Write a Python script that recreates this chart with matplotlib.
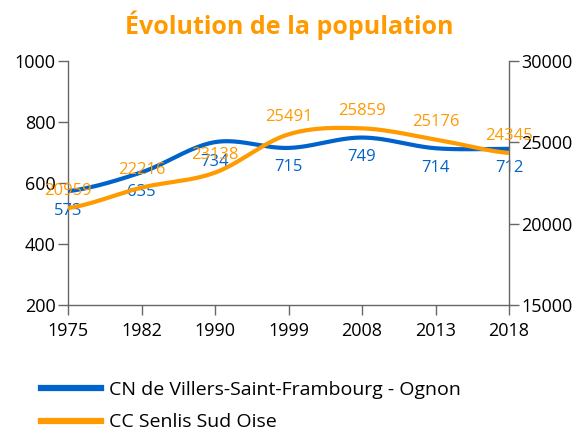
import numpy as np
import matplotlib
matplotlib.use("Agg")
import matplotlib.pyplot as plt
from matplotlib.lines import Line2D

plt.rcParams['font.family'] = ['Open Sans', 'DejaVu Sans']

years = ["1975", "1982", "1990", "1999", "2008", "2013", "2018"]
cn_values = [573, 635, 734, 715, 749, 714, 712]
cc_values = [20959, 22216, 23138, 25491, 25859, 25176, 24345]
cn_name = "CN de Villers-Saint-Frambourg - Ognon"
cc_name = "CC Senlis Sud Oise"
title = "Évolution de la population"

BLUE = "#0063cb"
ORANGE = "#ff9a00"
GRAY = "#666666"


def catmull(y, n=40):
    y = np.asarray(y, dtype=float)
    k = len(y)
    m = np.zeros(k)
    m[1:-1] = (y[2:] - y[:-2]) / 2.0
    m[0] = (y[1] - y[0]) / 2.0
    m[-1] = (y[-1] - y[-2]) / 2.0
    xs, ys = [], []
    t = np.linspace(0, 1, n)
    h00 = 2 * t**3 - 3 * t**2 + 1
    h10 = t**3 - 2 * t**2 + t
    h01 = -2 * t**3 + 3 * t**2
    h11 = t**3 - t**2
    for i in range(k - 1):
        xs.append(i + t)
        ys.append(h00 * y[i] + h10 * m[i] + h01 * y[i + 1] + h11 * m[i + 1])
    return np.concatenate(xs), np.concatenate(ys)


fig = plt.figure(figsize=(5.79, 4.32), dpi=100)
ax = fig.add_axes([68 / 579, 1 - 305 / 432, 441 / 579, 244 / 432])
ax2 = ax.twinx()

x = np.arange(len(years))
bx, by = catmull(cn_values)
ox, oy = catmull(cc_values)
ax.plot(bx, by, color=BLUE, lw=3, solid_capstyle='butt', zorder=3)
ax2.plot(ox, oy, color=ORANGE, lw=3, solid_capstyle='butt', zorder=3)

for xi, v in zip(x, cn_values):
    ax.annotate(str(v), (xi, v), xytext=(0, -14), textcoords='offset points',
                ha='center', va='center', color=BLUE, fontsize=12, zorder=5)
for xi, v in zip(x, cc_values):
    ax2.annotate(str(v), (xi, v), xytext=(0, 12.5), textcoords='offset points',
                 ha='center', va='center', color=ORANGE, fontsize=12, zorder=5)

ax.set_xlim(0, len(years) - 1)
ax.set_ylim(200, 1000)
ax.set_yticks([200, 400, 600, 800, 1000])
ax2.set_ylim(15000, 30000)
ax2.set_yticks([15000, 20000, 25000, 30000])
ax.set_xticks(x)
ax.set_xticklabels(years)

for a in (ax, ax2):
    a.spines['top'].set_visible(False)
    for s in ('left', 'right', 'bottom'):
        a.spines[s].set_color(GRAY)
        a.spines[s].set_linewidth(1)
    a.tick_params(colors='black', labelsize=13, length=7, width=1)
    a.tick_params(axis='both', color=GRAY)
ax.spines['right'].set_visible(False)
ax2.spines['left'].set_visible(False)
ax2.spines['bottom'].set_visible(False)
ax.tick_params(axis='x', pad=5)
ax.tick_params(axis='y', pad=2)
ax2.tick_params(axis='y', pad=2)

fig.text(0.5, 1 - 25 / 432, title, ha='center', va='center', color=ORANGE,
         fontsize=18, fontweight='bold')

handles = [Line2D([], [], color=BLUE, lw=4.5), Line2D([], [], color=ORANGE, lw=4.5)]
fig.legend(handles, [cn_name, cc_name], loc='upper left',
           bbox_to_anchor=(33 / 579, 1 - 373 / 432), frameon=False,
           fontsize=14, handlelength=3.1, handletextpad=0.4, labelspacing=0.75,
           borderaxespad=0)

fig.savefig("out.png", dpi=100)
